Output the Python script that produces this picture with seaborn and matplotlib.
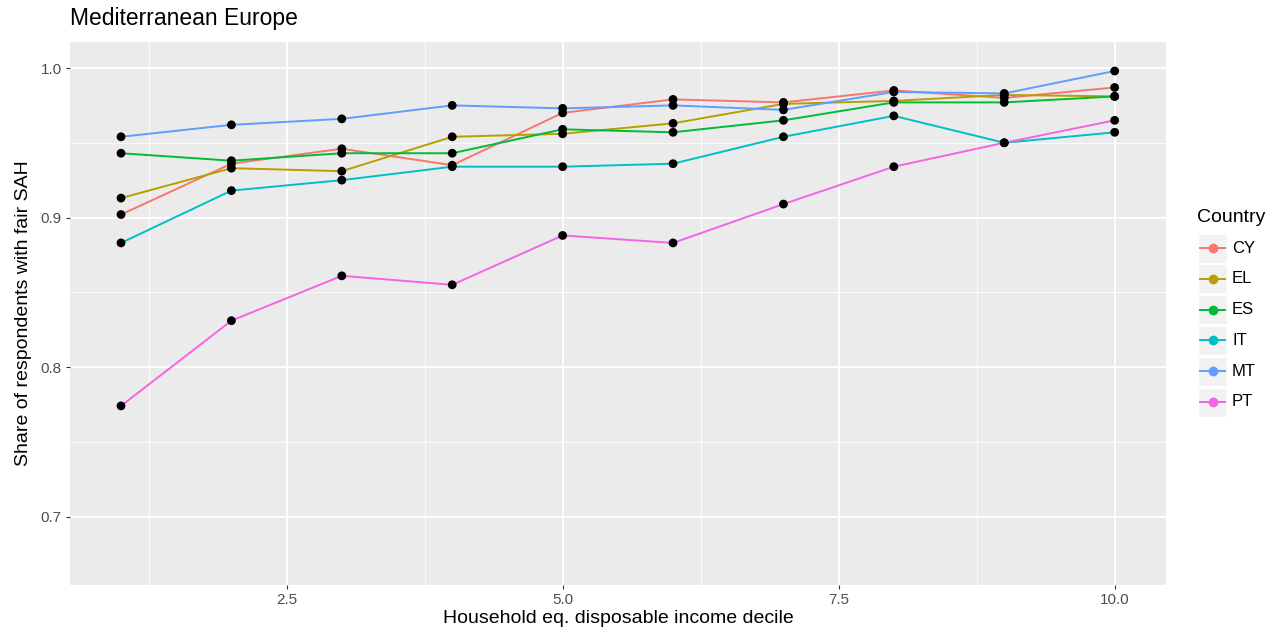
import matplotlib
matplotlib.use("Agg")
import matplotlib.pyplot as plt
from matplotlib.lines import Line2D
from matplotlib.patches import Rectangle
import numpy as np
import pandas as pd
import seaborn as sns

# Values (share with fair SAH by income decile).
deciles = [1, 2, 3, 4, 5, 6, 7, 8, 9, 10]
countries = ["CY", "EL", "ES", "IT", "MT", "PT"]
cy = [0.902, 0.936, 0.946, 0.935, 0.970, 0.979, 0.977, 0.985, 0.980, 0.987]
el = [0.913, 0.933, 0.931, 0.954, 0.956, 0.963, 0.976, 0.978, 0.982, 0.981]
es = [0.943, 0.938, 0.943, 0.943, 0.959, 0.957, 0.965, 0.977, 0.977, 0.981]
it = [0.883, 0.918, 0.925, 0.934, 0.934, 0.936, 0.954, 0.968, 0.950, 0.957]
mt = [0.954, 0.962, 0.966, 0.975, 0.973, 0.975, 0.972, 0.984, 0.983, 0.998]
pt = [0.774, 0.831, 0.861, 0.855, 0.888, 0.883, 0.909, 0.934, 0.950, 0.965]
colors = ["#F8766D", "#B79F00", "#00BA38", "#00BFC4", "#619CFF", "#F564E3"]

series = [cy, el, es, it, mt, pt]
df = pd.DataFrame({
    "decile": deciles * len(countries),
    "share": [v for s in series for v in s],
    "Country": [c for c in countries for _ in deciles],
})

plt.rcParams["font.family"] = ["Liberation Sans", "DejaVu Sans"]

W, H = 1276, 641
fig = plt.figure(figsize=(W / 100, H / 100), dpi=100)
ax = fig.add_axes([70 / W, 1 - 585 / H, (1166 - 70) / W, (585 - 42) / H])
ax.set_facecolor("#EBEBEB")

sns.lineplot(data=df, x="decile", y="share", hue="Country",
             palette=dict(zip(countries, colors)), linewidth=1.4,
             legend=False, ax=ax, zorder=3)
sns.scatterplot(data=df, x="decile", y="share", color="black", s=40,
                edgecolor="none", legend=False, ax=ax, zorder=4)

ax.set_xlim(0.538, 10.465)
ax.set_ylim(0.6542, 1.0174)
ax.set_xticks([2.5, 5.0, 7.5, 10.0])
ax.set_xticklabels(["2.5", "5.0", "7.5", "10.0"])
ax.set_yticks([0.7, 0.8, 0.9, 1.0])
ax.set_yticklabels(["0.7", "0.8", "0.9", "1.0"])
ax.set_xticks([1.25, 3.75, 6.25, 8.75], minor=True)
ax.set_yticks([0.75, 0.85, 0.95], minor=True)
ax.grid(which="major", color="white", linewidth=1.3, zorder=0)
ax.grid(which="minor", color="white", linewidth=0.6, zorder=0)
ax.set_axisbelow(True)
for sp in ax.spines.values():
    sp.set_visible(False)
ax.tick_params(which="major", length=3, width=0.8, color="#333333",
               labelsize=11, labelcolor="#4D4D4D", pad=3)
ax.tick_params(which="minor", length=0)

ax.set_xlabel("Household eq. disposable income decile", fontsize=14,
              labelpad=2)
ax.set_ylabel("Share of respondents with fair SAH", fontsize=14,
              labelpad=6)
fig.text(70 / W, 1 - 19 / H, "Mediterranean Europe", fontsize=16.5,
         ha="left", va="center")

# legend drawn by hand to mimic ggplot keys
fig.text(1197 / W, 1 - 218 / H, "Country", fontsize=14, ha="left",
         va="center")
for i, (c, col) in enumerate(zip(countries, colors)):
    yc = 248 + 30.8 * i
    fig.patches.append(Rectangle((1198 / W, 1 - (yc + 14.5) / H), 29 / W,
                                 29 / H, transform=fig.transFigure,
                                 facecolor="#F2F2F2", edgecolor="white",
                                 linewidth=1))
    fig.lines.append(Line2D([1200 / W, 1225 / W], [1 - yc / H, 1 - yc / H],
                            transform=fig.transFigure, color=col,
                            linewidth=1.4))
    fig.lines.append(Line2D([1212.5 / W], [1 - yc / H], marker="o",
                            markersize=6, color=col, linestyle="none",
                            transform=fig.transFigure))
    fig.text(1232 / W, 1 - yc / H, c, fontsize=12, ha="left", va="center")

fig.savefig("out.png", dpi=100)
